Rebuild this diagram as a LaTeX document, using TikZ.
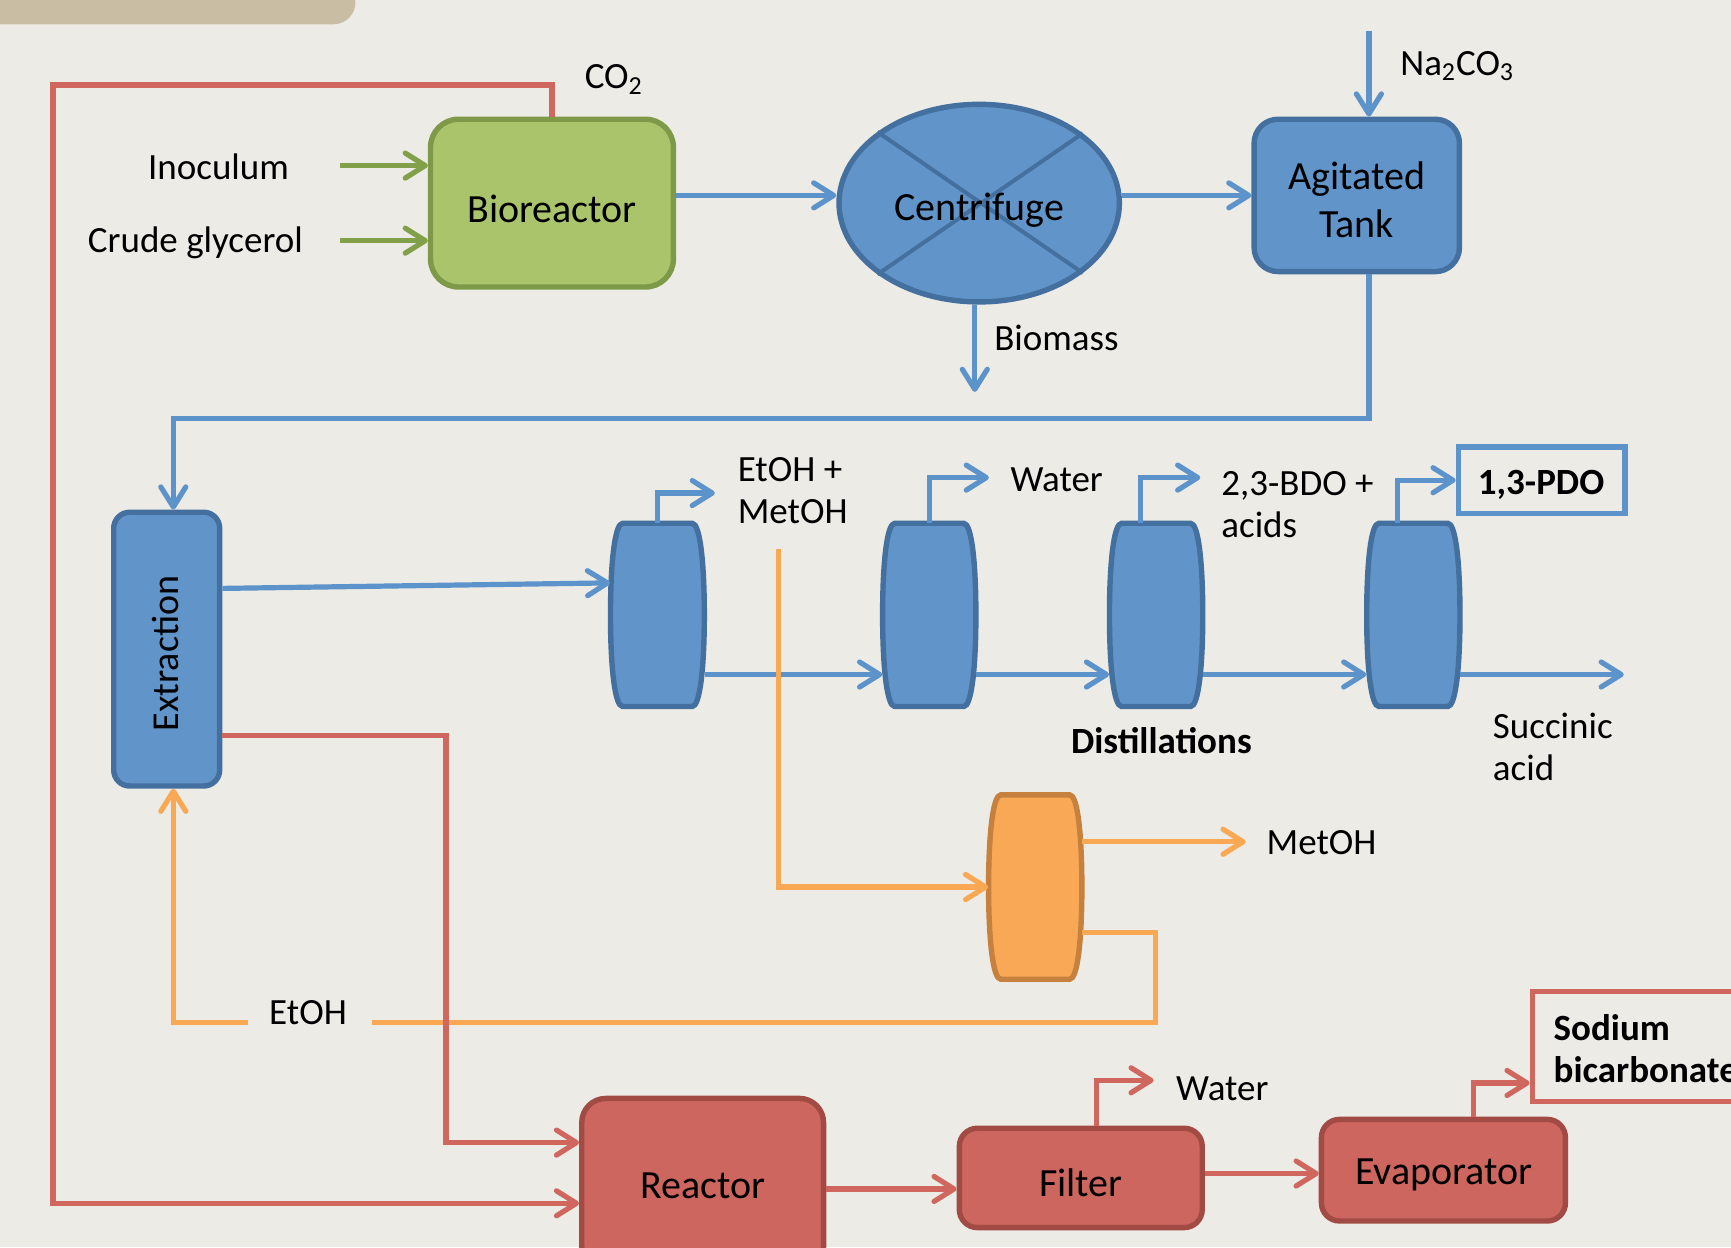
\documentclass[tikz,border=0pt]{standalone}
\usepackage{fontspec}
\setmainfont{Carlito}
\usetikzlibrary{arrows.meta,fit,calc,shapes.geometric}
\definecolor{bg}{HTML}{EDEBE6}
\definecolor{tanc}{HTML}{C9BEA4}
\definecolor{bfill}{HTML}{6195C9}
\definecolor{bdraw}{HTML}{44709F}
\definecolor{bline}{HTML}{5C93CA}
\definecolor{gfill}{HTML}{AAC46C}
\definecolor{gdraw}{HTML}{7E9A48}
\definecolor{gline}{HTML}{82A04A}
\definecolor{rfill}{HTML}{CD665E}
\definecolor{rdraw}{HTML}{A24B44}
\definecolor{rline}{HTML}{D0675F}
\definecolor{ofill}{HTML}{F9A855}
\definecolor{odraw}{HTML}{C7813F}
\definecolor{oline}{HTML}{F9A854}
\tikzset{
 lab/.style={inner sep=0pt, font=\fontsize{18.5}{21}\selectfont, align=left},
 boldlab/.style={lab, font=\fontsize{18.5}{21}\selectfont\bfseries},
 boxtxt/.style={inner sep=0pt, font=\fontsize{20}{23.7}\selectfont, align=center},
 proc/.style={line width=2.7pt, inner sep=0pt},
 flowline/.style={line width=2.6pt},
 flow/.style={line width=2.6pt, -{Straight Barb[length=10pt,width=12.5pt,round]}},
 bfl/.style={flow, bline},
 gfl/.style={flow, gline},
 rfl/.style={flow, rline},
 ofl/.style={flow, oline},
}
\newcommand\barrel[6]{%
 \node[fit={(#2,#4) (#3,#5)}, inner sep=0pt] (#1) {};
 \draw[#6] ({#2+11},#4) -- ({#3-11},#4) .. controls ({#3-4},#4) and (#3,{#4+35}) .. (#3,{(#4+#5)/2}) .. controls (#3,{#5-35}) and ({#3-4},#5) .. ({#3-11},#5) -- ({#2+11},#5) .. controls ({#2+4},#5) and (#2,{#5-35}) .. (#2,{(#4+#5)/2}) .. controls (#2,{#4+35}) and ({#2+4},#4) .. cycle;
}
\begin{document}
\begin{tikzpicture}[x=0.552pt, y=-0.552pt]
\useasboundingbox (0,0) rectangle (1568,1130);
\clip (0,0) rectangle (1568,1130);
\fill[bg] (0,0) rectangle (1568,1130);
\fill[tanc, rounded corners=11pt] (-40,-40) rectangle (322,22);

% process boxes
\node[proc, draw=gdraw, fill=gfill, rounded corners=14pt, fit={(390,108) (610,260)}] (bio) {};
\node[boxtxt] (bioT) at (500,189) {Bioreactor};
\node[proc, draw=bdraw, fill=bfill, ellipse, minimum width=140.2pt, minimum height=98.8pt] (cf) at (887,184) {};
\draw[bdraw, line width=2pt] (cf.145.7) -- (cf.-34.3) (cf.34.3) -- (cf.-145.7);
\node[boxtxt] (cfT) at (887,190) {Centrifuge};
\node[proc, draw=bdraw, fill=bfill, rounded corners=12pt, fit={(1136,108) (1322,246)}] (tank) {};
\node[boxtxt] (tankT) at (1229,181) {Agitated\\Tank};
\node[proc, draw=bdraw, fill=bfill, rounded corners=8pt, fit={(103,464) (199,712)}] (ext) {};
\node[rotate=90, inner sep=0pt, font=\fontsize{19}{22}\selectfont] (extT) at (150,592) {Extraction};

\barrel{c1}{553}{638}{474}{640}{proc, draw=bdraw, fill=bfill}
\barrel{c2}{799.5}{884}{474}{640}{proc, draw=bdraw, fill=bfill}
\barrel{c3}{1005}{1089.5}{474}{640}{proc, draw=bdraw, fill=bfill}
\barrel{c4}{1238}{1322.5}{474}{640}{proc, draw=bdraw, fill=bfill}
\barrel{oc}{895.5}{980}{720}{887}{proc, draw=odraw, fill=ofill}

\node[proc, draw=bline, fit={(1321,405) (1472,465)}] (pdo) {};
\node[boldlab] (pdoT) at (1396,439) {1,3-PDO};

\node[proc, draw=rdraw, fill=rfill, rounded corners=12pt, fit={(527,995) (746,1151)}] (reac) {};
\node[boxtxt] (reacT) at (637,1074) {Reactor};
\node[proc, draw=rdraw, fill=rfill, rounded corners=9pt, fit={(869,1022) (1089,1112)}] (filt) {};
\node[boxtxt] (filtT) at (979,1071) {Filter};
\node[proc, draw=rdraw, fill=rfill, rounded corners=9pt, fit={(1197,1014) (1418,1106)}] (evap) {};
\node[boxtxt] (evapT) at (1308,1064) {Evaporator};
\node[proc, draw=rline, fit={(1388,898) (1720,998)}] (sod) {};
\node[boldlab, anchor=west] (sodT) at (1407,950) {Sodium\\bicarbonate};

% labels
\node[lab] (inoc) at (198,151) {Inoculum};
\node[lab] (crude) at (177,220) {Crude glycerol};
\node[lab] (co2) at (556,72) {CO\textsubscript{2}};
\node[lab] (na2) at (1320,60) {Na\textsubscript{2}CO\textsubscript{3}};
\node[lab] (biom) at (957,306) {Biomass};
\node[lab, anchor=west] (etm) at (668,444) {EtOH +\\MetOH};
\node[lab, anchor=west] (wat1) at (915,435) {Water};
\node[lab, anchor=west] (bdo) at (1106,457) {2,3-BDO +\\acids};
\node[lab, anchor=west] (succ) at (1352,677) {Succinic\\acid};
\node[boldlab] (dist) at (1052,671) {Distillations};
\node[lab, anchor=west] (metoh) at (1147,763) {MetOH};
\node[lab] (etoh) at (279,917) {EtOH};
\node[lab, anchor=west] (wat2) at (1065,986) {Water};

% coordinates for free ends
\coordinate (inA) at (308,150);
\coordinate (crA) at (308,218);
\coordinate (lc1) at (48,77);
\coordinate (lc2) at (48,1090);
\coordinate (na) at (1240,28);
\coordinate (bm) at (883,355);
\coordinate (t1) at (1240,379);
\coordinate (t2) at (157,379);
\coordinate (o1) at (705,497);
\coordinate (eb) at (1047,926);
\coordinate (eg) at (337,926);
\coordinate (eg2) at (225,926);
\coordinate (ex2) at (157,926);
\coordinate (r1) at (404,1035);

% green
\draw[gfl] (inA) -- (inA -| bio.west);
\draw[gfl] (crA) -- (crA -| bio.west);
% red loop from bioreactor
\draw[rfl] (bio.north) |- (lc1) -- (lc2) -- (lc2 -| reac.west);
% blue top
\draw[bfl] (bio.east |- tank.west) -- (cf.west |- tank.west);
\draw[bfl] (cf.east |- tank.west) -- (tank.west);
\draw[bfl] (na) -- (na |- tank.north);
\draw[bfl] (bm |- cf.south) -- (bm);
\draw[bfl] (t1 |- tank.south) -- (t1) -- (t2) -- (t2 |- ext.north);
% extraction to column 1
\draw[bfl] ($(ext.east)+(0,-55)$) -- ($(c1.west)+(0,-29)$);
% column outlets
\draw[bfl] (c1.north) -- ++(0,-27) -- ++(52,0);
\draw[bfl] (c2.north) -- ++(0,-41) -- ++(54,0);
\draw[bfl] ($(c3.north)+(-14,0)$) -- ++(0,-41) -- ++(54,0);
\draw[bfl] ($(c4.north)+(-14,0)$) |- (pdo.west);
% bottoms
\draw[bfl] ($(c1.east)+(0,54)$) -- ($(c2.west)+(0,54)$);
\draw[bfl] ($(c2.east)+(0,54)$) -- ($(c3.west)+(0,54)$);
\draw[bfl] ($(c3.east)+(0,54)$) -- ($(c4.west)+(0,54)$);
\draw[bfl] ($(c4.east)+(0,54)$) -- ++(148,0);
% orange
\draw[ofl] (o1) |- (oc.west);
\draw[ofl] ($(oc.east)+(0,-41)$) -- ++(148,0);
\draw[flowline, oline] ($(oc.east)+(0,41.5)$) -| (eb) -- (eg);
\draw[ofl] (eg2) -- (ex2) -- (ex2 |- ext.south);
% red
\draw[rfl] ($(ext.east)+(0,78)$) -| (r1) -- (r1 -| reac.west);
\draw[rfl] ($(reac.east)+(0,4)$) -- ($(filt.west)+(0,10)$);
\draw[rfl] ($(filt.north)+(14,0)$) -- ++(0,-41) -- ++(52,0);
\draw[rfl] ($(filt.east)+(0,-4)$) -- ($(evap.west)+(0,3)$);
\draw[rfl] ($(evap.north)+(27.5,0)$) |- ($(sod.west)+(0,33)$);
\end{tikzpicture}
\end{document}
